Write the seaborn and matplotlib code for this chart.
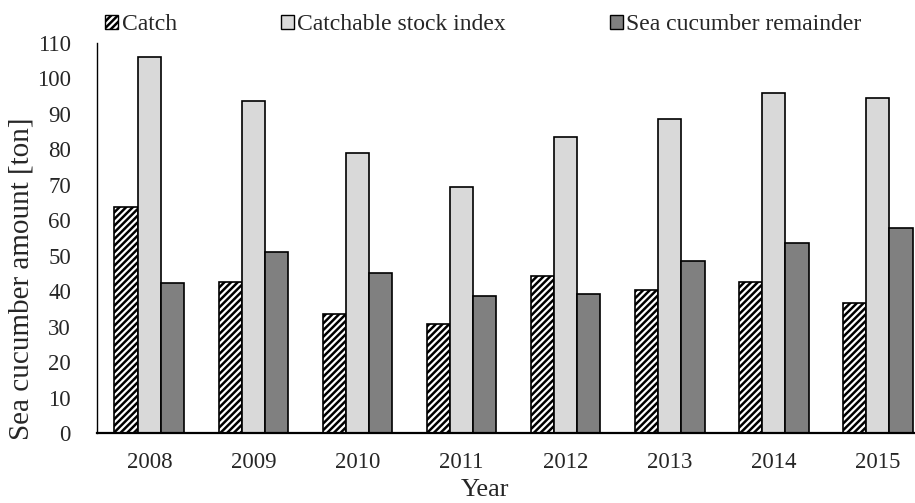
import matplotlib
matplotlib.use("Agg")
import matplotlib.pyplot as plt
from matplotlib.patches import Patch
import seaborn as sns
import pandas as pd

years = ["2008", "2009", "2010", "2011", "2012", "2013", "2014", "2015"]
catch = [63.7, 42.5, 33.7, 30.7, 44.4, 40.2, 42.5, 36.8]
stock_index = [106.0, 93.7, 78.9, 69.3, 83.6, 88.5, 95.9, 94.6]
remainder = [42.2, 51.1, 45.2, 38.6, 39.3, 48.4, 53.5, 57.8]
series_names = ["Catch", "Catchable stock index", "Sea cucumber remainder"]
y_ticks = list(range(0, 111, 10))

df = pd.DataFrame({
    "Year": years * 3,
    "Amount": catch + stock_index + remainder,
    "Series": [series_names[0]] * 8 + [series_names[1]] * 8 + [series_names[2]] * 8,
})

sns.set_style("white")
plt.rcParams["font.family"] = ["Liberation Serif", "DejaVu Serif"]
plt.rcParams["hatch.linewidth"] = 1.8
plt.rcParams["hatch.color"] = "black"

fills = {"Catch": "white", "Catchable stock index": "#d9d9d9",
         "Sea cucumber remainder": "#808080"}

fig = plt.figure(figsize=(9.15, 5.03), dpi=100)
ax = fig.add_axes([97.3 / 915, 1 - 433 / 503, (929.8 - 97.3) / 915, (433 - 43) / 503])

sns.barplot(data=df, x="Year", y="Amount", hue="Series", order=years,
            hue_order=series_names, palette=fills, width=0.67,
            edgecolor="black", linewidth=1.2, legend=False, ax=ax)

for bar in ax.containers[0]:
    bar.set_hatch("/////")

ax.set_xlim(-0.5, 7.5)
ax.set_ylim(0, 110)
ax.set_yticks(y_ticks)
ax.tick_params(axis="y", length=0, pad=19, labelsize=16.5)
ax.tick_params(axis="x", length=0, pad=14, labelsize=16.5)
for s in ["top", "right"]:
    ax.spines[s].set_visible(False)
ax.spines["left"].set_linewidth(1.0)
ax.spines["bottom"].set_linewidth(1.6)
ax.spines["left"].set_color("black")
ax.spines["bottom"].set_color("black")

ax.set_xlabel("Year", fontsize=19, va="center")
ax.xaxis.set_label_coords((485.5 - 97.3) / 832.5, -(490 - 433) / 390)
ax.set_ylabel("Sea cucumber amount [ton]", fontsize=21, va="center")
ax.yaxis.set_label_coords((22 - 97.3) / 832.5, (433 - 279) / 390)

handles = [Patch(facecolor=fills[n], edgecolor="black", linewidth=1.0,
                 hatch="/////" if n == "Catch" else None) for n in series_names]
fig.legend(handles, series_names, loc="center left",
           bbox_to_anchor=(105 / 915, 1 - 24.5 / 503), ncol=3, frameon=False,
           fontsize=17, handlelength=0.55, handleheight=0.55, handletextpad=0.15,
           columnspacing=4.4, borderpad=0, borderaxespad=0)

fig.savefig("out.png", dpi=100)
